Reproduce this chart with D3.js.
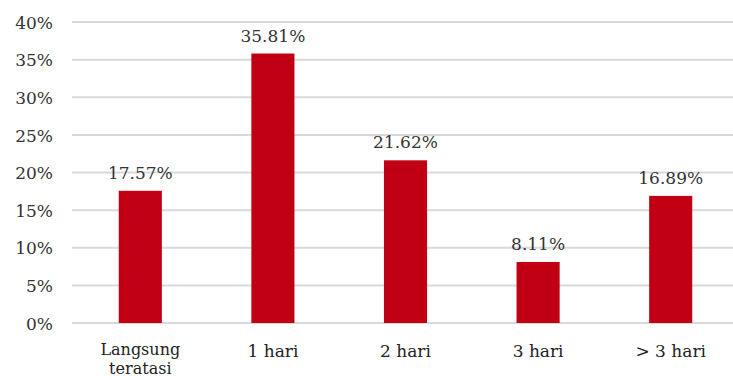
<!DOCTYPE html>
<html><head><meta charset="utf-8">
<script src="https://cdn.jsdelivr.net/npm/d3@7"></script>
<style>body{margin:0;background:#fff}svg{display:block}
svg text{font-family:"DejaVu Serif",serif}</style>
</head><body><svg id="c" width="733" height="380"></svg>
<script>
const categories = ["Langsung teratasi", "1 hari", "2 hari", "3 hari", "> 3 hari"];
const values = [17.57, 35.81, 21.62, 8.11, 16.89];
const valueLabels = ["17.57%", "35.81%", "21.62%", "8.11%", "16.89%"];
const yTicks = [0, 5, 10, 15, 20, 25, 30, 35, 40];

const svg = d3.select("#c");
const x = d3.scaleBand().domain(categories).range([74, 737]).paddingInner(0.675).paddingOuter(0.3375);
const y = d3.scaleLinear().domain([0, 40]).range([323, 22]);
const fs = 17;

// gridlines
svg.append("g").selectAll("line").data(yTicks).join("line")
  .attr("x1", 72).attr("x2", 733)
  .attr("y1", d => y(d)).attr("y2", d => y(d))
  .attr("stroke", "#d9d9d9").attr("stroke-width", 2);

// y axis labels
const yAxis = d3.axisLeft(y).tickValues(yTicks).tickFormat(d => d + "%").tickSize(0).tickPadding(0);
const ya = svg.append("g").attr("transform", "translate(53,0)").call(yAxis);
ya.select(".domain").remove();
ya.attr("font-family", null).attr("font-size", null);
ya.selectAll("text").attr("font-size", fs).attr("fill", "#333").attr("dy", "0.36em");

// bars
svg.append("g").selectAll("rect").data(values).join("rect")
  .attr("x", (d, i) => x(categories[i]))
  .attr("width", x.bandwidth())
  .attr("y", d => y(d))
  .attr("height", d => y(0) - y(d))
  .attr("fill", "#c00012");

// value labels
svg.append("g").selectAll("text").data(values).join("text")
  .attr("x", (d, i) => x(categories[i]) + x.bandwidth() / 2)
  .attr("y", d => y(d) - 12)
  .attr("text-anchor", "middle")
  .attr("font-size", fs).attr("fill", "#333")
  .text((d, i) => valueLabels[i]);

// x axis labels
const xAxis = d3.axisBottom(x).tickSize(0).tickPadding(0);
const xa = svg.append("g").attr("transform", "translate(0,323)").call(xAxis);
xa.select(".domain").remove();
xa.attr("font-family", null).attr("font-size", null);
xa.selectAll("text").attr("font-size", fs).attr("fill", "#222")
  .each(function(d) {
    const t = d3.select(this);
    const words = d.split(" ");
    t.text(null).attr("y", 0).attr("dy", null);
    if (d === "Langsung teratasi") {
      t.append("tspan").attr("x", 0).attr("y", 32).attr("font-size", 16).text(words[0]);
      t.append("tspan").attr("x", 0).attr("y", 51).attr("font-size", 16).text(words[1]);
    } else {
      t.append("tspan").attr("x", 0).attr("y", 34).text(d);
    }
  });
</script></body></html>
